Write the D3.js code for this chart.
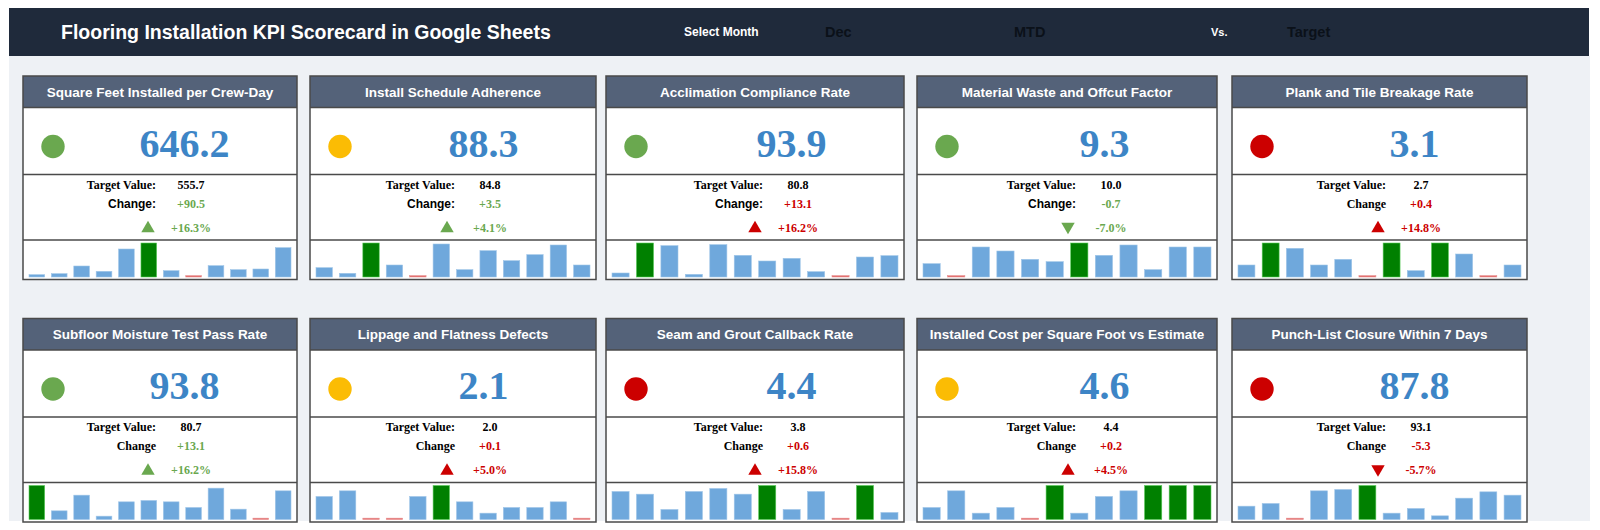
<!DOCTYPE html>
<html>
<head>
<meta charset="utf-8">
<script src="https://cdn.jsdelivr.net/npm/d3@7"></script>
<style>
  html, body { margin: 0; padding: 0; background: #fff; }
  svg { display: block; }
</style>
</head>
<body>
<svg id="vis-container"></svg>
<script>
const WIDTH = 1600
const HEIGHT = 530
const CONTAINER = d3.select("#vis-container")

const SANS = "'Liberation Sans', Arial, Helvetica, sans-serif"
const SERIF = "'Liberation Serif', 'Times New Roman', Times, serif"

// header selections
const dashboardTitle = 'Flooring Installation KPI Scorecard in Google Sheets'
const selectedMonth = 'Dec'
const periodLabel = 'MTD'
const compareLabel = 'Target'

// kpi data
const months = ['Jan', 'Feb', 'Mar', 'Apr', 'May', 'Jun', 'Jul', 'Aug', 'Sep', 'Oct', 'Nov', 'Dec']
const kpiNames = [
    'Square Feet Installed per Crew-Day',
    'Install Schedule Adherence',
    'Acclimation Compliance Rate',
    'Material Waste and Offcut Factor',
    'Plank and Tile Breakage Rate',
    'Subfloor Moisture Test Pass Rate',
    'Lippage and Flatness Defects',
    'Seam and Grout Callback Rate',
    'Installed Cost per Square Foot vs Estimate',
    'Punch-List Closure Within 7 Days'
]
const actualValues = [646.2, 88.3, 93.9, 9.3, 3.1, 93.8, 2.1, 4.4, 4.6, 87.8]
const targetValues = [555.7, 84.8, 80.8, 10.0, 2.7, 80.7, 2.0, 3.8, 4.4, 93.1]
const changeValues = [90.5, 3.5, 13.1, -0.7, 0.4, 13.1, 0.1, 0.6, 0.2, -5.3]
const changePercents = [16.3, 4.1, 16.2, -7.0, 14.8, 16.2, 5.0, 15.8, 4.5, -5.7]
const statusLevels = ['good', 'warn', 'good', 'good', 'bad', 'good', 'warn', 'bad', 'warn', 'bad']
const changeFavorable = [true, true, false, true, false, true, false, false, false, false]
const changeLabels = ['Change:', 'Change:', 'Change:', 'Change:', 'Change', 'Change', 'Change', 'Change', 'Change', 'Change']

// monthly trend (sparkline) values
const monthlyTrends = [
    [7, 10, 33, 17, 84, 102, 19, 4, 34, 22, 24, 88],
    [28, 11, 102, 36, 4, 99, 22, 79, 49, 67, 96, 36],
    [12, 102, 94, 8, 97, 65, 48, 56, 16, 4, 60, 64],
    [40, 4, 90, 78, 53, 46, 102, 65, 96, 22, 90, 90],
    [36, 102, 86, 36, 53, 4, 102, 19, 102, 69, 4, 36],
    [102, 26, 73, 10, 53, 57, 53, 36, 94, 31, 4, 86],
    [69, 86, 4, 4, 69, 102, 53, 19, 36, 36, 53, 4],
    [84, 76, 30, 84, 93, 76, 102, 30, 84, 4, 102, 21],
    [36, 86, 19, 36, 4, 102, 19, 69, 86, 102, 102, 102],
    [40, 48, 4, 86, 90, 102, 19, 33, 11, 64, 83, 73]
]

// layout
const CARD_COLUMNS = [[23, 297], [310, 596], [606, 904], [917, 1217], [1232, 1527]]
const ROW_TOPS = [76, 318.5]
const SECTION_HEIGHTS = { header: 31.5, value: 67, info: 65.5, chart: 39.5 }

const STATUS_COLORS = { good: '#6aa84f', warn: '#fbbc04', bad: '#cc0000' }
const GOOD_TEXT = '#6aa84f'
const BAD_TEXT = '#cc0000'

initVisualization()

function initVisualization() {
    CONTAINER
        .attr('width', WIDTH)
        .attr('height', HEIGHT)

    CONTAINER.append('rect')
        .attr('x', 9).attr('y', 56)
        .attr('width', 1581).attr('height', 465)
        .attr('fill', '#eef1f5')

    renderHeader()

    kpiNames.forEach((name, i) => {
        const [left, right] = CARD_COLUMNS[i % 5]
        renderCard(i, left, right, ROW_TOPS[Math.floor(i / 5)])
    })
}

function renderHeader() {
    const header = CONTAINER.append('g').attr('id', 'header')

    header.append('rect')
        .attr('x', 9).attr('y', 8)
        .attr('width', 1580).attr('height', 48)
        .attr('fill', '#1f2a3b')

    const items = [
        { text: dashboardTitle, x: 61, size: 19.5, color: '#ffffff' },
        { text: 'Select Month', x: 684, size: 12, color: '#ffffff' },
        { text: selectedMonth, x: 825, size: 14.5, color: '#0b1119' },
        { text: periodLabel, x: 1014, size: 14.5, color: '#0b1119' },
        { text: 'Vs.', x: 1211, size: 11, color: '#ffffff' },
        { text: compareLabel, x: 1287, size: 14.5, color: '#0b1119' }
    ]

    header.selectAll('text.header-item')
        .data(items)
        .join('text')
        .attr('class', 'header-item')
        .attr('x', d => d.x)
        .attr('y', 32)
        .attr('dy', '0.35em')
        .attr('font-family', SANS)
        .attr('font-weight', 'bold')
        .attr('font-size', d => d.size)
        .attr('fill', d => d.color)
        .text(d => d.text)
}

// signed number with a plain hyphen, like the sheet shows it
function signed(v) {
    return d3.format('+.1f')(v).replace('\u2212', '-')
}

function renderCard(i, left, right, top) {
    const w = right - left
    const card = CONTAINER.append('g').attr('class', 'card')
    const valueTop = top + SECTION_HEIGHTS.header
    const infoTop = valueTop + SECTION_HEIGHTS.value
    const chartTop = infoTop + SECTION_HEIGHTS.info
    const bottom = chartTop + SECTION_HEIGHTS.chart

    card.append('rect')
        .attr('x', left).attr('y', top)
        .attr('width', w).attr('height', bottom - top)
        .attr('fill', '#ffffff')

    card.append('rect')
        .attr('x', left).attr('y', top)
        .attr('width', w).attr('height', SECTION_HEIGHTS.header)
        .attr('fill', '#546279')

    card.append('text')
        .attr('x', left + w / 2)
        .attr('y', top + 16)
        .attr('dy', '0.35em')
        .attr('text-anchor', 'middle')
        .attr('font-family', SANS)
        .attr('font-weight', 'bold')
        .attr('font-size', 13.5)
        .attr('fill', '#ffffff')
        .text(kpiNames[i])

    // status dot + big value
    card.append('circle')
        .attr('cx', left + 30)
        .attr('cy', valueTop + 39)
        .attr('r', 11.7)
        .attr('fill', STATUS_COLORS[statusLevels[i]])

    card.append('text')
        .attr('x', right - 112.5)
        .attr('y', valueTop + 49)
        .attr('text-anchor', 'middle')
        .attr('font-family', SERIF)
        .attr('font-weight', 'bold')
        .attr('font-size', 40)
        .attr('fill', '#3d85c6')
        .text(actualValues[i].toFixed(1))

    // target / change block
    const changeColor = changeFavorable[i] ? GOOD_TEXT : BAD_TEXT
    const labelX = right - 141
    const valueX = right - 106

    const rows = [
        { label: 'Target Value:', labelFont: SERIF, value: targetValues[i].toFixed(1), color: '#000000', dy: 10 },
        { label: changeLabels[i], labelFont: changeLabels[i].endsWith(':') ? SANS : SERIF, value: signed(changeValues[i]), color: changeColor, dy: 29 },
        { label: '', labelFont: SERIF, value: signed(changePercents[i]) + '%', color: changeColor, dy: 53 }
    ]

    card.selectAll('text.info-label')
        .data(rows)
        .join('text')
        .attr('class', 'info-label')
        .attr('x', labelX)
        .attr('y', d => infoTop + d.dy)
        .attr('dy', '0.35em')
        .attr('text-anchor', 'end')
        .attr('font-family', d => d.labelFont)
        .attr('font-weight', 'bold')
        .attr('font-size', 12)
        .attr('fill', '#000000')
        .text(d => d.label)

    card.selectAll('text.info-value')
        .data(rows)
        .join('text')
        .attr('class', 'info-value')
        .attr('x', valueX)
        .attr('y', d => infoTop + d.dy)
        .attr('dy', '0.35em')
        .attr('text-anchor', 'middle')
        .attr('font-family', SERIF)
        .attr('font-weight', 'bold')
        .attr('font-size', 12)
        .attr('fill', d => d.color)
        .text(d => d.value)

    const up = changeValues[i] >= 0
    card.append('path')
        .attr('d', d3.symbol(d3.symbolTriangle, 78)())
        .attr('transform', `translate(${right - 149},${infoTop + 53 + (up ? 1 : -1)}) rotate(${up ? 0 : 180})`)
        .attr('fill', changeColor)

    // sparkline bars
    const values = monthlyTrends[i]
    const maxV = d3.max(values)
    const minV = d3.min(values)
    const x = d3.scaleBand()
        .domain(months)
        .range([left + 6, right - 6])
        .paddingInner(0.3)
    const y = d3.scaleLinear()
        .domain([0, maxV])
        .range([bottom - 2.5, chartTop + 3])

    card.append('g')
        .selectAll('rect')
        .data(values)
        .join('rect')
        .attr('x', (d, k) => x(months[k]))
        .attr('y', d => y(d))
        .attr('width', x.bandwidth())
        .attr('height', d => y(0) - y(d))
        .attr('fill', d => d === maxV ? '#008000' : d === minV ? '#e06666' : '#6fa8dc')
        .attr('stroke', d => d === maxV ? '#5ccc5c' : d === minV ? '#e89090' : '#9fc5e8')
        .attr('stroke-width', 0.6)

    // section dividers and outline
    card.selectAll('line.divider')
        .data([valueTop, infoTop, chartTop])
        .join('line')
        .attr('class', 'divider')
        .attr('x1', left).attr('x2', right)
        .attr('y1', d => d).attr('y2', d => d)
        .attr('stroke', '#4a4a4a')
        .attr('stroke-width', 1.5)

    card.append('rect')
        .attr('x', left).attr('y', top)
        .attr('width', w).attr('height', bottom - top)
        .attr('fill', 'none')
        .attr('stroke', '#4a4a4a')
        .attr('stroke-width', 1.5)
}
</script>
</body>
</html>
